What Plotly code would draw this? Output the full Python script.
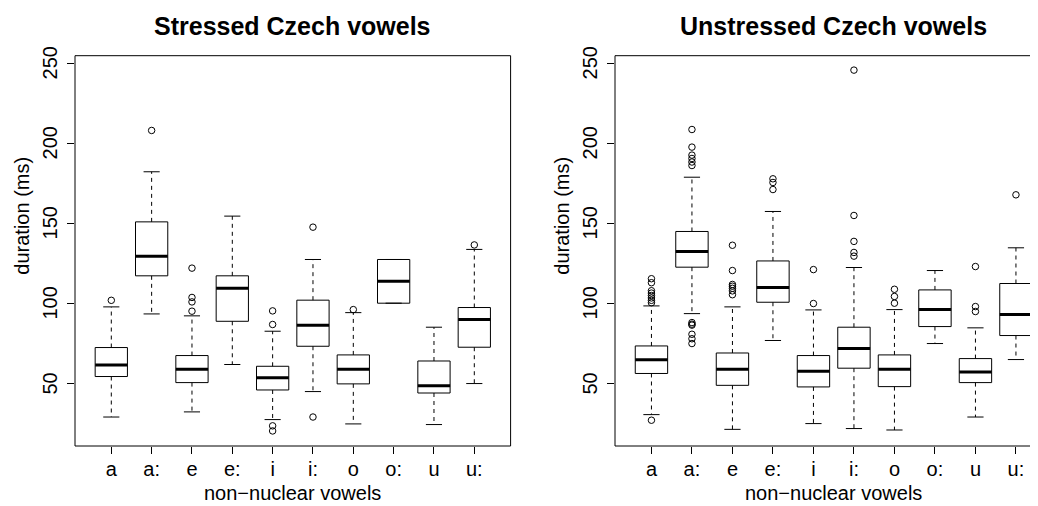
import plotly.graph_objects as go

vowels = ["a", "a:", "e", "e:", "i", "i:", "o", "o:", "u", "u:"]

# Stressed vowels (left panel)
s_lower = [29.1, 93.5, 32.3, 61.9, 27.5, 45.0, 24.8, 100.2, 24.4, 50.0]
s_q1 = [54.4, 117.3, 50.6, 88.9, 46.0, 73.3, 49.8, 100.2, 44.1, 72.7]
s_median = [61.6, 129.6, 58.9, 109.6, 53.7, 86.4, 58.9, 113.9, 48.7, 90.0]
s_q3 = [72.5, 151.0, 67.5, 117.3, 60.8, 102.1, 67.9, 127.5, 64.1, 97.5]
s_upper = [97.9, 182.3, 92.3, 154.6, 82.7, 127.5, 94.3, 127.5, 85.2, 133.8]
s_outliers = [
    [102.0],
    [208.1],
    [122.1, 103.8, 101.0, 95.2],
    [],
    [95.4, 86.9, 23.6, 20.4],
    [147.7, 29.1],
    [96.2],
    [],
    [],
    [136.6],
]

# Unstressed vowels (right panel)
u_lower = [30.6, 93.7, 21.4, 76.9, 25.0, 21.9, 21.0, 75.0, 29.1, 65.0]
u_q1 = [56.3, 122.7, 48.9, 100.8, 47.9, 59.6, 48.1, 85.6, 50.6, 80.0]
u_median = [64.8, 132.5, 58.9, 110.0, 57.7, 71.9, 58.9, 96.2, 57.3, 93.1]
u_q3 = [73.5, 145.0, 69.1, 126.6, 67.5, 85.2, 67.9, 108.5, 65.6, 112.5]
u_upper = [98.5, 178.9, 97.9, 157.5, 96.0, 122.5, 96.2, 120.6, 84.8, 134.8]
u_outliers = [
    [115.5, 113.0, 108.0, 106.5, 105.0, 103.5, 102.0, 100.5, 27.1],
    [208.7, 197.7, 192.7, 190.6, 188.4, 186.2, 88.1, 87.1, 86.5, 80.8, 78.0, 75.0],
    [136.4, 120.6, 111.9, 110.8, 109.5, 107.9, 105.5],
    [177.9, 175.6, 171.2],
    [121.2, 100.0],
    [245.8, 155.0, 138.8, 131.9, 129.6],
    [108.9, 104.4, 100.2],
    [],
    [123.1, 98.1, 95.0],
    [167.9],
]

titles = ["Stressed Czech vowels", "Unstressed Czech vowels"]
xlab = "non\u2212nuclear vowels"
ylab = "duration (ms)"
yticks = [50, 100, 150, 200, 250]

FONT = "Liberation Sans, Arial, Helvetica, sans-serif"
BOXW = 0.8
CAPW = 0.4

fig = go.Figure()


def add_panel(lower, q1, med, q3, upper, outl, xa, ya):
    bx, by, mx, my, wx, wy, cx, cy, ox, oy = [], [], [], [], [], [], [], [], [], []
    for i in range(len(vowels)):
        x = i + 1
        l, r = x - BOXW / 2, x + BOXW / 2
        bx += [l, r, r, l, l, None]
        by += [q1[i], q1[i], q3[i], q3[i], q1[i], None]
        mx += [l, r, None]
        my += [med[i], med[i], None]
        wx += [x, x, None, x, x, None]
        wy += [q3[i], upper[i], None, q1[i], lower[i], None]
        cx += [x - CAPW / 2, x + CAPW / 2, None, x - CAPW / 2, x + CAPW / 2, None]
        cy += [upper[i], upper[i], None, lower[i], lower[i], None]
        for v in outl[i]:
            ox.append(x)
            oy.append(v)
    common = dict(xaxis=xa, yaxis=ya, showlegend=False, hoverinfo="skip")
    fig.add_trace(go.Scatter(x=wx, y=wy, mode="lines",
                             line=dict(color="black", width=1, dash="4px,4px"), **common))
    fig.add_trace(go.Scatter(x=cx, y=cy, mode="lines",
                             line=dict(color="black", width=1), **common))
    fig.add_trace(go.Scatter(x=bx, y=by, mode="lines",
                             line=dict(color="black", width=1), **common))
    fig.add_trace(go.Scatter(x=mx, y=my, mode="lines",
                             line=dict(color="black", width=3), **common))
    fig.add_trace(go.Scatter(x=ox, y=oy, mode="markers",
                             marker=dict(symbol="circle-open", size=6.5, color="black",
                                         line=dict(width=1, color="black")), **common))


add_panel(s_lower, s_q1, s_median, s_q3, s_upper, s_outliers, "x", "y")
add_panel(u_lower, u_q1, u_median, u_q3, u_upper, u_outliers, "x2", "y2")

# page body has an 8px default margin: figure pixel = reference pixel - OFF
OFF = 8
W, H = 1038 - OFF, 506 - OFF


def px(p):
    return (p - OFF) / W


def py(p):
    return 1 - (p - OFF) / H


ydom = [py(446), py(55.7)]
xdom1 = [px(75), px(510.6)]
xdom2 = [px(615), 1.0]
unit2 = 40.5
xr2 = [0.1, 0.1 + (1038 - 615) / unit2]

xcommon = dict(tickmode="array", tickvals=list(range(1, 11)), ticktext=vowels,
               ticks="outside", ticklen=7, tickcolor="black", tickwidth=1,
               showgrid=False, zeroline=False, showline=False, automargin=False,
               ticklabelstandoff=-2,
               tickfont=dict(family=FONT, size=20, color="black"))
ycommon = dict(tickmode="array", tickvals=yticks, showticklabels=False,
               range=[11.0, 254.8], domain=ydom,
               ticks="outside", ticklen=7, tickcolor="black", tickwidth=1,
               showgrid=False, zeroline=False, showline=False, automargin=False)

fig.update_layout(
    width=W, height=H, autosize=False,
    margin=dict(l=0, r=0, t=0, b=0, pad=0),
    paper_bgcolor="white", plot_bgcolor="white",
    xaxis=dict(domain=xdom1, range=[0.1, 10.9], anchor="y", **xcommon),
    yaxis=dict(anchor="x", **ycommon),
    xaxis2=dict(domain=xdom2, range=xr2, anchor="y2", **xcommon),
    yaxis2=dict(anchor="x2", **ycommon),
)

# Frames
fig.add_shape(type="rect", xref="x domain", yref="y domain", x0=0, x1=1, y0=0, y1=1,
              line=dict(color="black", width=1), layer="above")
for (x0, y0, x1, y1) in [(0, 0, 1, 0), (0, 1, 1, 1), (0, 0, 0, 1)]:
    fig.add_shape(type="line", xref="x2 domain", yref="y2 domain", x0=x0, y0=y0, x1=x1, y1=y1,
                  line=dict(color="black", width=1), layer="above")

# Titles, axis labels and rotated y tick labels
centers = [px((75 + 510.6) / 2), px(833.5)]
ylab_x = [px(21.7), px(615 - 53.3)]
ytick_x = [px(50), px(615 - 25)]
yrefs = ["y", "y2"]
for k in range(2):
    fig.add_annotation(text="<b>" + titles[k] + "</b>", xref="paper", yref="paper",
                       x=centers[k], y=py(26), xanchor="center", yanchor="middle",
                       showarrow=False, font=dict(family=FONT, size=25, color="black"))
    fig.add_annotation(text=xlab, xref="paper", yref="paper",
                       x=centers[k], y=0, xanchor="center", yanchor="bottom",
                       showarrow=False, font=dict(family=FONT, size=20, color="black"))
    fig.add_annotation(text=ylab, xref="paper", yref="paper",
                       x=ylab_x[k], y=py(216), xanchor="center", yanchor="middle",
                       textangle=-90, showarrow=False,
                       font=dict(family=FONT, size=20, color="black"))
    for v in yticks:
        fig.add_annotation(text=str(v), xref="paper", yref=yrefs[k],
                           x=ytick_x[k], y=v, xanchor="center", yanchor="middle",
                           textangle=-90, showarrow=False,
                           font=dict(family=FONT, size=20, color="black"))

fig.write_html("out.html")
